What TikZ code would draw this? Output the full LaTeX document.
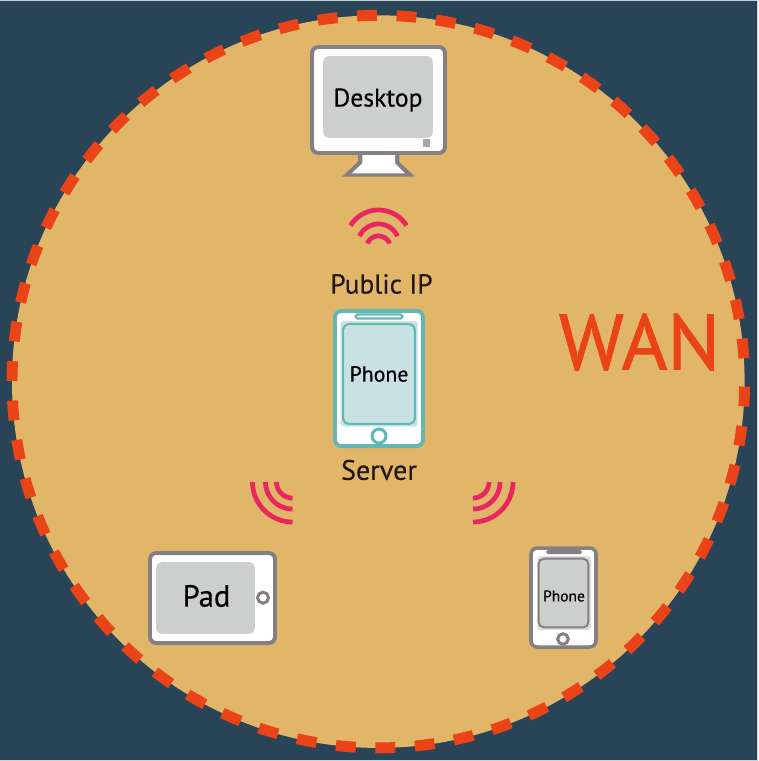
\documentclass[tikz,border=0pt]{standalone}
\usepackage{fontspec}
\setmainfont{PT Sans}
\newfontfamily\heavyfont[FakeBold=0.4]{PT Sans}
\newfontfamily\wanfont[FakeBold=1.2]{PT Sans}
\definecolor{bgblue}{HTML}{294357}
\definecolor{edgepale}{HTML}{C9D0D6}
\definecolor{sand}{HTML}{E1B669}
\definecolor{dashred}{HTML}{EA4317}
\definecolor{wifired}{HTML}{E8265F}
\definecolor{framegray}{HTML}{857F84}
\definecolor{screengray}{HTML}{CDCFCE}
\definecolor{teal}{HTML}{5FB8B5}
\definecolor{tealpale}{HTML}{C8E2E3}
\definecolor{labelblack}{HTML}{231815}
\tikzset{
    frame/.style={draw=framegray,line width=2.27pt,fill=white,rounded corners=3.5pt},
    screen/.style={fill=screengray,rounded corners=3pt,inner sep=0pt,text=black},
    wifi/.style={draw=wifired,line width=2.7pt,samples=40},
    caption/.style={inner sep=0pt,text=labelblack}
}
\begin{document}
\begin{tikzpicture}[x=0.02cm,y=-0.02cm]
    \useasboundingbox (0,0) rectangle (758,761);
    \fill [edgepale](0,0) rectangle (758,761);
    \fill [bgblue](0,0.8) rectangle (757.2,759.8);
    \fill [sand](378.3,381.6) circle [radius=366.3];
    \draw [dashred,line width=6.2pt,dash pattern=on 11.3pt off 11.2pt,domain=0.78:358,samples=361] plot ({378.3+366.3*cos(\x)},{381.6+366.3*sin(\x)});
    % desktop
    \fill [framegray](358,150)--(358,161.7)--(342,176.7)--(415,176.7)--(399.3,162)--(399.3,150)--cycle;
    \fill [white](362.3,150)--(362.3,163.3)--(351.7,173.3)--(405,173.3)--(395,163.3)--(395,150)--cycle;
    \draw [frame](312,47) rectangle (445,153);
    \node (desktop) [screen,minimum width=110*0.567pt,minimum height=82*0.567pt] at (378,97) {};
    \node (desktoplabel) [inner sep=0pt,font=\heavyfont\fontsize{14.6}{17}\selectfont] at (378,100) {Desktop};
    \fill [black!34](423,139) rectangle (430,147);
    % server
    \draw [frame,draw=teal](335,311) rectangle (423,446);
    \fill [tealpale,rounded corners=2pt](340.7,321) rectangle (417.7,426.7);
    \node (server) [screen,fill=tealpale,draw=teal,line width=1.2pt,minimum width=72*0.567pt,minimum height=100*0.567pt] at (379,374) {};
    \node (serverscreen) [inner sep=0pt,font=\heavyfont\fontsize{12.4}{14}\selectfont] at (379,374) {Phone};
    \draw [draw=teal,line width=1.2pt,fill=white,rounded corners=1pt](355.5,314.5) rectangle (402.5,318.5);
    \draw [draw=teal,line width=1.7pt,fill=white](379,436) circle [radius=7];
    \node (publicip) [caption,font=\heavyfont\fontsize{15.6}{19}\selectfont] at (381.5,284) {Public IP};
    \node (serverlabel) [caption,font=\heavyfont\fontsize{16}{19}\selectfont] at (379,470) {Server};
    % pad
    \draw [frame](150,553) rectangle (275,643);
    \node (pad) [screen,minimum width=99*0.567pt,minimum height=72*0.567pt] at (205.5,598) {};
    \node (padlabel) [inner sep=0pt,font=\heavyfont\fontsize{17.4}{20}\selectfont] at (206.5,596) {Pad};
    \draw [draw=framegray,line width=1.7pt,fill=white](263,597.7) circle [radius=5.5];
    % client phone
    \draw [frame,line width=2pt](531,548) rectangle (596,647);
    \fill [screengray!70,rounded corners=2pt](537,556) rectangle (591,630);
    \node (phone) [screen,draw=framegray,line width=1.1pt,minimum width=50*0.567pt,minimum height=69*0.567pt] at (563.5,593) {};
    \node (phonelabel) [inner sep=0pt,font=\heavyfont\fontsize{8.8}{10}\selectfont] at (564,596) {Phone};
    \fill [framegray,rounded corners=1pt](546,550) rectangle (582,554);
    \draw [draw=framegray,line width=1.7pt,fill=white](563,639) circle [radius=5.3];
    % signals
    \foreach \r/\cy/\a in {33/243/58,21/245/65,12/248/68}
        \draw [wifi,domain=90-\a:90+\a] plot ({378.5+\r*cos(\x)},{\cy-\r*sin(\x)});
    \foreach \r in {40,27,16}{
        \draw [wifi,domain=180:270] plot ({292.5+\r*cos(\x)},{482-\r*sin(\x)});
        \draw [wifi,domain=270:360] plot ({473+\r*cos(\x)},{482-\r*sin(\x)});
    }
    \node (wan) [inner sep=0pt,text=dashred,font=\wanfont\fontsize{44.6}{52}\selectfont] at (639.5,342) {WAN};
\end{tikzpicture}
\end{document}
